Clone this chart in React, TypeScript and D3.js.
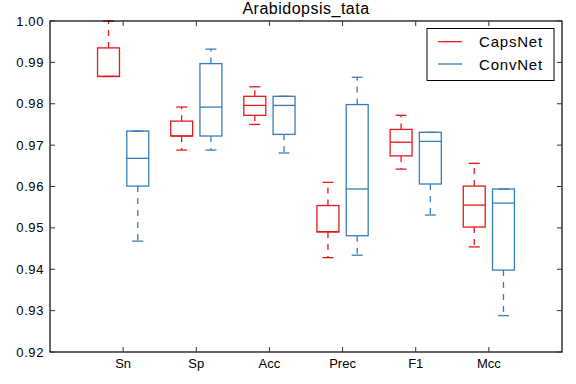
import React, { useEffect, useRef } from "react";
import * as d3 from "d3";

const categories = ["Sn", "Sp", "Acc", "Prec", "F1", "Mcc"];
const seriesNames = ["CapsNet", "ConvNet"];
const seriesColors = ["#e41a1c", "#377eb8"];
const yTicks = [0.92, 0.93, 0.94, 0.95, 0.96, 0.97, 0.98, 0.99, 1.0];

// CapsNet box stats per category
const capsMin = [0.9866, 0.9688, 0.975, 0.9428, 0.9642, 0.9454];
const capsQ1 = [0.9866, 0.9722, 0.9772, 0.949, 0.9674, 0.9502];
const capsMed = [0.9866, 0.9722, 0.9796, 0.9491, 0.9707, 0.9555];
const capsQ3 = [0.9935, 0.9758, 0.9818, 0.9554, 0.9738, 0.9601];
const capsMax = [1.0, 0.9792, 0.9841, 0.961, 0.9772, 0.9656];

// ConvNet box stats per category
const convMin = [0.9468, 0.9688, 0.9681, 0.9434, 0.9531, 0.9288];
const convQ1 = [0.9601, 0.9722, 0.9726, 0.9481, 0.9606, 0.9398];
const convMed = [0.9668, 0.9792, 0.9796, 0.9594, 0.9709, 0.956];
const convQ3 = [0.9734, 0.9897, 0.9818, 0.9798, 0.9731, 0.9594];
const convMax = [0.9734, 0.9932, 0.9818, 0.9864, 0.9731, 0.9594];

const FONT = "'Liberation Sans', Arial, sans-serif";

export default function App() {
  const ref = useRef<SVGSVGElement>(null);

  useEffect(() => {
    const W = 576, H = 384;
    const left = 50, right = 562, top = 21, bottom = 352;
    const svg = d3.select(ref.current);
    svg.selectAll("*").remove();

    const x = d3.scaleLinear().domain([0, 7]).range([left, right]);
    const y = d3.scaleLinear().domain([0.92, 1.0]).range([bottom, top]);

    const g = svg.append("g");

    const series = [
      { min: capsMin, q1: capsQ1, med: capsMed, q3: capsQ3, max: capsMax, offset: -0.2 },
      { min: convMin, q1: convQ1, med: convMed, q3: convQ3, max: convMax, offset: 0.2 },
    ];
    const boxW = 0.3;

    series.forEach((s, si) => {
      const color = seriesColors[si];
      categories.forEach((c, i) => {
        const cx = i + 1 + s.offset;
        const lw = 1.3;
        // whiskers dashed
        g.append("line")
          .attr("x1", x(cx)).attr("x2", x(cx))
          .attr("y1", y(s.q3[i])).attr("y2", y(s.max[i]))
          .style("stroke", color).style("stroke-width", lw)
          .style("stroke-dasharray", "6,6");
        g.append("line")
          .attr("x1", x(cx)).attr("x2", x(cx))
          .attr("y1", y(s.q1[i])).attr("y2", y(s.min[i]))
          .style("stroke", color).style("stroke-width", lw)
          .style("stroke-dasharray", "6,6");
        // caps
        [s.min[i], s.max[i]].forEach(v => {
          g.append("line")
            .attr("x1", x(cx - boxW / 4)).attr("x2", x(cx + boxW / 4))
            .attr("y1", y(v)).attr("y2", y(v))
            .style("stroke", color).style("stroke-width", lw);
        });
        // box
        g.append("rect")
          .attr("x", x(cx - boxW / 2))
          .attr("y", y(s.q3[i]))
          .attr("width", x(cx + boxW / 2) - x(cx - boxW / 2))
          .attr("height", y(s.q1[i]) - y(s.q3[i]))
          .style("fill", "none").style("stroke", color).style("stroke-width", lw);
        // median
        g.append("line")
          .attr("x1", x(cx - boxW / 2)).attr("x2", x(cx + boxW / 2))
          .attr("y1", y(s.med[i])).attr("y2", y(s.med[i]))
          .style("stroke", color).style("stroke-width", lw);
      });
    });

    // frame
    g.append("rect")
      .attr("x", left).attr("y", top)
      .attr("width", right - left).attr("height", bottom - top)
      .style("fill", "none").style("stroke", "black").style("stroke-width", 1.2);

    // y ticks (inside, left and right)
    yTicks.forEach(t => {
      g.append("line").attr("x1", left).attr("x2", left + 5)
        .attr("y1", y(t)).attr("y2", y(t)).style("stroke", "#333");
      g.append("line").attr("x1", right).attr("x2", right - 5)
        .attr("y1", y(t)).attr("y2", y(t)).style("stroke", "#333");
      g.append("text")
        .attr("x", left - 6).attr("y", y(t) + 4.5)
        .attr("text-anchor", "end")
        .style("font-family", FONT).style("font-size", "13px")
        .style("letter-spacing", "0.6px")
        .text(t.toFixed(2));
    });

    // x ticks (inside, bottom and top)
    categories.forEach((c, i) => {
      g.append("line").attr("x1", x(i + 1)).attr("x2", x(i + 1))
        .attr("y1", bottom).attr("y2", bottom - 5).style("stroke", "#333");
      g.append("line").attr("x1", x(i + 1)).attr("x2", x(i + 1))
        .attr("y1", top).attr("y2", top + 5).style("stroke", "#333");
      g.append("text")
        .attr("x", x(i + 1)).attr("y", 368)
        .attr("text-anchor", "middle")
        .style("font-family", FONT).style("font-size", "13px")
        .text(c);
    });

    // title
    g.append("text")
      .attr("x", (left + right) / 2).attr("y", 14)
      .attr("text-anchor", "middle")
      .style("font-family", FONT).style("font-size", "16px")
      .style("letter-spacing", "0.5px")
      .text("Arabidopsis_tata");

    // legend
    const lg = g.append("g");
    lg.append("rect")
      .attr("x", 427).attr("y", 28.5).attr("width", 127).attr("height", 52)
      .style("fill", "white").style("stroke", "black").style("stroke-width", 1);
    seriesNames.forEach((name, i) => {
      const ly = 41.7 + i * 22.3;
      lg.append("line").attr("x1", 438).attr("x2", 462)
        .attr("y1", ly).attr("y2", ly)
        .style("stroke", seriesColors[i]).style("stroke-width", 1.3);
      lg.append("text")
        .attr("x", 479).attr("y", ly + 5.5)
        .style("font-family", FONT).style("font-size", "15px")
        .style("letter-spacing", "0.8px")
        .text(name);
    });

    svg.attr("width", W).attr("height", H);
  }, []);

  return (
    <svg ref={ref} width={576} height={384}
      style={{ position: "absolute", left: 0, top: 0, background: "white" }} />
  );
}
